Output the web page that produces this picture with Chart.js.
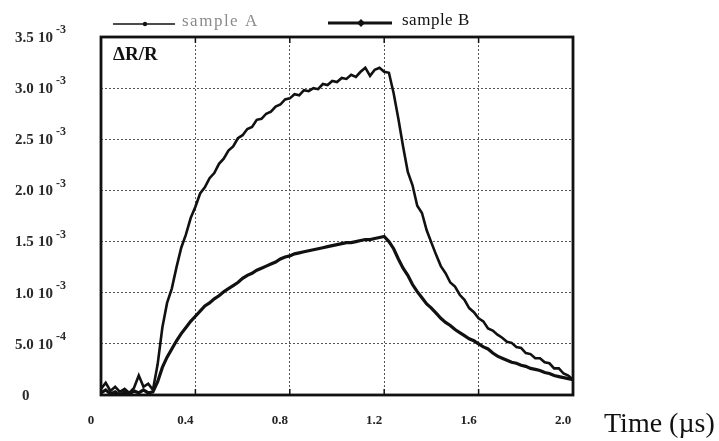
<!DOCTYPE html>
<html lang="en">
<head>
  <meta charset="UTF-8">
  <title>Delta R / R vs time</title>
  <script src="https://cdn.jsdelivr.net/npm/chart.js"></script>
  <style>
    html, body { margin: 0; padding: 0; background: #fff; }
    #wrap { width: 719px; height: 441px; }
  </style>
</head>
<body>
  <div id="wrap"><canvas id="chart" width="719" height="441"></canvas></div>

  <script>
    // time axis (µs)
    const time = [0.00,0.02,0.04,0.06,0.08,0.10,0.12,0.14,0.16,0.18,0.20,0.22,0.24,0.26,0.28,0.30,0.32,0.34,0.36,0.38,
      0.40,0.42,0.44,0.46,0.48,0.50,0.52,0.54,0.56,0.58,0.60,0.62,0.64,0.66,0.68,0.70,0.72,0.74,0.76,0.78,
      0.80,0.82,0.84,0.86,0.88,0.90,0.92,0.94,0.96,0.98,1.00,1.02,1.04,1.06,1.08,1.10,1.12,1.14,1.16,1.18,
      1.20,1.22,1.24,1.26,1.28,1.30,1.32,1.34,1.36,1.38,1.40,1.42,1.44,1.46,1.48,1.50,1.52,1.54,1.56,1.58,
      1.60,1.62,1.64,1.66,1.68,1.70,1.72,1.74,1.76,1.78,1.80,1.82,1.84,1.86,1.88,1.90,1.92,1.94,1.96,1.98,2.00];

    // ΔR/R in units of 1e-3
    const sampleA = [0.06,0.12,0.04,0.08,0.03,0.06,0.02,0.07,0.19,0.08,0.11,0.05,0.30,0.66,0.90,1.04,1.25,1.44,1.57,1.73,
      1.84,1.97,2.03,2.12,2.17,2.26,2.31,2.39,2.43,2.51,2.54,2.60,2.62,2.69,2.70,2.75,2.77,2.82,2.84,2.89,
      2.90,2.94,2.93,2.98,2.97,3.00,2.99,3.04,3.03,3.07,3.06,3.10,3.09,3.13,3.11,3.16,3.20,3.12,3.18,3.20,
      3.16,3.15,2.95,2.70,2.43,2.18,2.05,1.85,1.78,1.61,1.49,1.37,1.26,1.19,1.10,1.06,0.98,0.93,0.85,0.81,
      0.75,0.72,0.65,0.63,0.59,0.56,0.52,0.51,0.47,0.46,0.41,0.40,0.36,0.36,0.32,0.31,0.26,0.26,0.21,0.19,0.15];

    const sampleB = [0.02,0.05,0.01,0.03,0.00,0.03,0.01,0.04,0.02,0.05,0.02,0.03,0.13,0.27,0.37,0.45,0.53,0.60,0.66,0.72,
      0.77,0.82,0.87,0.90,0.94,0.97,1.01,1.04,1.07,1.10,1.14,1.17,1.19,1.22,1.24,1.26,1.28,1.30,1.33,1.35,
      1.36,1.38,1.39,1.40,1.41,1.42,1.43,1.44,1.45,1.46,1.47,1.48,1.49,1.49,1.50,1.51,1.52,1.52,1.53,1.54,
      1.55,1.50,1.43,1.33,1.24,1.17,1.08,1.01,0.95,0.89,0.85,0.80,0.75,0.71,0.68,0.64,0.61,0.58,0.55,0.53,
      0.50,0.47,0.45,0.41,0.38,0.36,0.34,0.32,0.31,0.29,0.28,0.26,0.25,0.24,0.22,0.21,0.19,0.18,0.17,0.16,0.15];

    const seriesNames = ['sample A', 'sample B'];

    // y tick labels: mantissa + power of ten
    const yTickMant = ['0', '5.0', '1.0', '1.5', '2.0', '2.5', '3.0', '3.5'];
    const yTickExp  = ['',  '-4',  '-3',  '-3',  '-3',  '-3',  '-3',  '-3'];
    const xTickLabels = ['0', '0.4', '0.8', '1.2', '1.6', '2.0'];

    const serif = "'Liberation Serif', 'DejaVu Serif', serif";

    // frame, inner tick marks, y labels, legend and titles
    const decorations = {
      id: 'decorations',
      afterDraw(chart) {
        const { ctx, chartArea: a, scales: { x, y } } = chart;
        ctx.save();

        ctx.strokeStyle = '#111';
        ctx.lineWidth = 2.8;
        ctx.strokeRect(a.left, a.top, a.right - a.left, a.bottom - a.top);

        ctx.lineWidth = 1.5;
        x.ticks.forEach(t => {
          const px = x.getPixelForValue(t.value);
          ctx.beginPath();
          ctx.moveTo(px, a.top); ctx.lineTo(px, a.top + 6);
          ctx.moveTo(px, a.bottom); ctx.lineTo(px, a.bottom - 6);
          ctx.stroke();
        });

        // y labels with superscript exponent
        ctx.fillStyle = '#2a2a2a';
        ctx.textBaseline = 'middle';
        ctx.textAlign = 'left';
        y.ticks.forEach((t, i) => {
          const py = y.getPixelForValue(t.value);
          ctx.font = 'bold 15px ' + serif;
          if (!yTickExp[i]) {
            ctx.fillText(yTickMant[i], 22, py + 1);
            return;
          }
          ctx.fillText(yTickMant[i], 15, py + 1);
          ctx.fillText('10', 38, py + 1);
          ctx.font = 'bold 12px ' + serif;
          ctx.fillText(yTickExp[i], 56, py - 7);
        });

        // ΔR/R label inside the frame
        ctx.font = 'bold 19px ' + serif;
        ctx.fillStyle = '#111';
        ctx.fillText('ΔR/R', a.left + 12, a.top + 18);

        // x axis title
        ctx.font = '28px ' + serif;
        ctx.textBaseline = 'alphabetic';
        ctx.fillText('Time (µs)', 604, 432);

        // legend
        ctx.strokeStyle = '#111';
        ctx.lineWidth = 1.5;
        ctx.beginPath(); ctx.moveTo(113, 24); ctx.lineTo(175, 24); ctx.stroke();
        ctx.beginPath(); ctx.arc(145, 24, 2.2, 0, Math.PI * 2); ctx.fillStyle = '#111'; ctx.fill();
        ctx.lineWidth = 3;
        ctx.beginPath(); ctx.moveTo(328, 23); ctx.lineTo(392, 23); ctx.stroke();
        ctx.beginPath();
        ctx.moveTo(361, 19); ctx.lineTo(365, 23); ctx.lineTo(361, 27); ctx.lineTo(357, 23); ctx.closePath();
        ctx.fill();

        ctx.font = '17px ' + serif;
        ctx.textBaseline = 'middle';
        ctx.fillStyle = '#8a8a8a';
        ctx.letterSpacing = '1.5px';
        ctx.fillText(chart.data.datasets[0].label, 182, 22);
        ctx.letterSpacing = '0.5px';
        ctx.fillStyle = '#111';
        ctx.fillText(chart.data.datasets[1].label, 402, 21);

        ctx.restore();
      }
    };

    new Chart(document.getElementById('chart'), {
      type: 'line',
      data: {
        labels: time,
        datasets: [
          {
            label: seriesNames[0],
            data: time.map((t, i) => ({ x: t, y: sampleA[i] })),
            borderColor: '#111',
            borderWidth: 2.6,
            pointRadius: 0,
            tension: 0
          },
          {
            label: seriesNames[1],
            data: time.map((t, i) => ({ x: t, y: sampleB[i] })),
            borderColor: '#111',
            borderWidth: 3.2,
            pointRadius: 0,
            tension: 0
          }
        ]
      },
      options: {
        responsive: false,
        animation: false,
        layout: { padding: { left: 101, right: 146, top: 37, bottom: 0 } },
        plugins: {
          legend: { display: false },
          tooltip: { enabled: false }
        },
        scales: {
          x: {
            type: 'linear',
            min: 0,
            max: 2.0,
            afterBuildTicks: (scale) => {
              scale.ticks = xTickLabels.map(v => ({ value: parseFloat(v) }));
            },
            afterFit: (scale) => { scale.height = 46; },
            ticks: {
              padding: 18,
              labelOffset: -10,
              color: '#222',
              font: { family: serif, size: 13, weight: 'bold' },
              callback: (v, i) => xTickLabels[i]
            },
            grid: { color: '#555', lineWidth: 1, drawTicks: false },
            border: { display: false, dash: [2, 2] }
          },
          y: {
            min: 0,
            max: 3.5,
            ticks: { stepSize: 0.5, display: false },
            grid: { color: '#555', lineWidth: 1, drawTicks: false },
            border: { display: false, dash: [2, 2] }
          }
        }
      },
      plugins: [decorations]
    });
  </script>
</body>
</html>
